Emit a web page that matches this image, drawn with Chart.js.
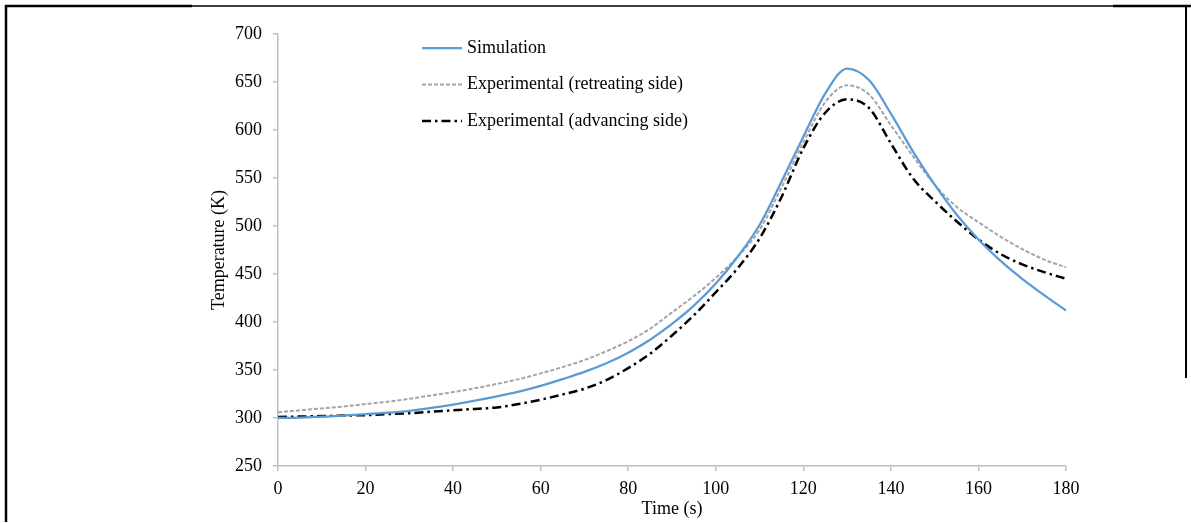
<!DOCTYPE html>
<html>
<head>
<meta charset="utf-8">
<script src="https://cdn.jsdelivr.net/npm/chart.js@4/dist/chart.umd.min.js"></script>
<style>
  html, body { margin: 0; padding: 0; background: #fff; }
  #wrap { position: relative; width: 1191px; height: 523px; }
</style>
</head>
<body>
<div id="wrap"><canvas id="c" width="1191" height="523"></canvas></div>
<script>
// Time axis (s)
const timeSeconds = [0, 5, 10, 15, 20, 25, 30, 35, 40, 45, 50, 55, 60, 65, 70, 75, 80, 85, 90, 95, 100, 105, 110, 115, 120, 125, 130, 135, 140, 145, 150, 155, 160, 165, 170, 175, 180];

// Temperature (K)
const simulation     = [300, 300.5, 301.5, 302.5, 304, 305.5, 307.5, 310.5, 314, 318, 322.5, 327.5, 333.5, 340.5, 348, 357, 368, 381.5, 398, 417, 440, 468, 501, 546, 593, 638, 664, 652, 617, 578, 543, 512, 486, 464, 445, 428, 412];
const retreatingSide = [306, 308, 310, 312, 314.5, 317, 320, 323.5, 327, 331, 335.5, 340.5, 346.5, 353, 360.5, 369.5, 380, 393, 410, 427, 446, 468, 496, 540, 587, 629, 646.5, 637, 605, 573, 543, 520, 504, 489, 476, 465, 457];
const advancingSide  = [301, 301.5, 302, 302.5, 303, 304, 305, 306.5, 308, 309.5, 311, 314.5, 319, 324.5, 330.5, 339.5, 352, 367, 386, 407, 431, 456, 487, 530, 581, 618, 632, 623, 586, 550, 526, 505, 486, 471, 460, 452, 445];

const seriesLabels = ['Simulation', 'Experimental (retreating side)', 'Experimental (advancing side)'];

const xRange = [0, 180];
const xStep = 20;
const yRange = [250, 700];
const yStep = 50;

const FONT = '"Liberation Serif", "Times New Roman", serif';
const AXIS_GREY = '#bfbfbf';

const toPoints = (vals) => vals.map((v, i) => ({ x: timeSeconds[i], y: v }));

// Legend drawn inside the plot, one row per dataset
const legendRows = [48, 84.5, 121];
const insideLegend = {
  id: 'insideLegend',
  afterDatasetsDraw(chart) {
    const ctx = chart.ctx;
    chart.data.datasets.forEach((ds, i) => {
      const y = legendRows[i];
      ctx.save();
      ctx.strokeStyle = ds.borderColor;
      ctx.lineWidth = ds.borderWidth;
      ctx.setLineDash(ds.borderDash || []);
      ctx.beginPath();
      ctx.moveTo(422, y);
      ctx.lineTo(462, y);
      ctx.stroke();
      ctx.setLineDash([]);
      ctx.fillStyle = '#000';
      ctx.font = '18px ' + FONT;
      ctx.textBaseline = 'middle';
      ctx.fillText(ds.label, 467, y);
      ctx.restore();
    });
  }
};

// Frame lines around the figure
const figureFrame = {
  id: 'figureFrame',
  afterDraw(chart) {
    const ctx = chart.ctx;
    ctx.save();
    ctx.lineCap = 'butt';
    ctx.strokeStyle = '#404040';
    ctx.lineWidth = 2;
    ctx.beginPath(); ctx.moveTo(192, 6); ctx.lineTo(1113, 6); ctx.stroke();
    ctx.strokeStyle = '#000';
    ctx.lineWidth = 2.5;
    ctx.beginPath(); ctx.moveTo(5, 6); ctx.lineTo(192, 6); ctx.stroke();
    ctx.beginPath(); ctx.moveTo(1113, 6); ctx.lineTo(1191, 6); ctx.stroke();
    ctx.beginPath(); ctx.moveTo(6, 5); ctx.lineTo(6, 522); ctx.stroke();
    ctx.lineWidth = 2;
    ctx.beginPath(); ctx.moveTo(1186, 5); ctx.lineTo(1186, 378); ctx.stroke();
    ctx.restore();
  }
};

new Chart(document.getElementById('c'), {
  type: 'line',
  data: {
    datasets: [
      {
        label: seriesLabels[0],
        data: toPoints(simulation),
        borderColor: '#5b9bd5',
        borderWidth: 2.25,
        pointRadius: 0,
        cubicInterpolationMode: 'monotone'
      },
      {
        label: seriesLabels[1],
        data: toPoints(retreatingSide),
        borderColor: '#a5a5a5',
        borderWidth: 2,
        borderDash: [4, 2],
        pointRadius: 0,
        cubicInterpolationMode: 'monotone'
      },
      {
        label: seriesLabels[2],
        data: toPoints(advancingSide),
        borderColor: '#000000',
        borderWidth: 2.5,
        borderDash: [9, 4, 2.5, 4],
        pointRadius: 0,
        cubicInterpolationMode: 'monotone'
      }
    ]
  },
  options: {
    responsive: false,
    animation: false,
    devicePixelRatio: 1,
    layout: { padding: { left: 200, top: 34, right: 125, bottom: 0 } },
    plugins: {
      legend: { display: false },
      tooltip: { enabled: false }
    },
    scales: {
      x: {
        type: 'linear',
        min: xRange[0],
        max: xRange[1],
        afterFit(scale) { scale.height = 57; },
        ticks: {
          stepSize: xStep,
          color: '#000',
          padding: 7,
          maxRotation: 0,
          font: { family: FONT, size: 18 }
        },
        grid: { drawOnChartArea: false, drawTicks: true, tickLength: 5, color: AXIS_GREY, lineWidth: 1.5 },
        border: { color: AXIS_GREY, width: 1.5 },
        title: {
          display: true,
          text: 'Time (s)',
          color: '#000',
          font: { family: FONT, size: 18 },
          padding: { top: 0, bottom: 3 }
        }
      },
      y: {
        min: yRange[0],
        max: yRange[1],
        afterFit(scale) { scale.width = 78; },
        ticks: {
          stepSize: yStep,
          color: '#000',
          padding: 11,
          font: { family: FONT, size: 18 }
        },
        grid: { drawOnChartArea: false, drawTicks: true, tickLength: 5, color: AXIS_GREY, lineWidth: 1.5 },
        border: { color: AXIS_GREY, width: 1.5 },
        title: {
          display: true,
          text: 'Temperature (K)',
          color: '#000',
          font: { family: FONT, size: 18 },
          padding: { top: 8, bottom: 0 }
        }
      }
    }
  },
  plugins: [insideLegend, figureFrame]
});
</script>
</body>
</html>
